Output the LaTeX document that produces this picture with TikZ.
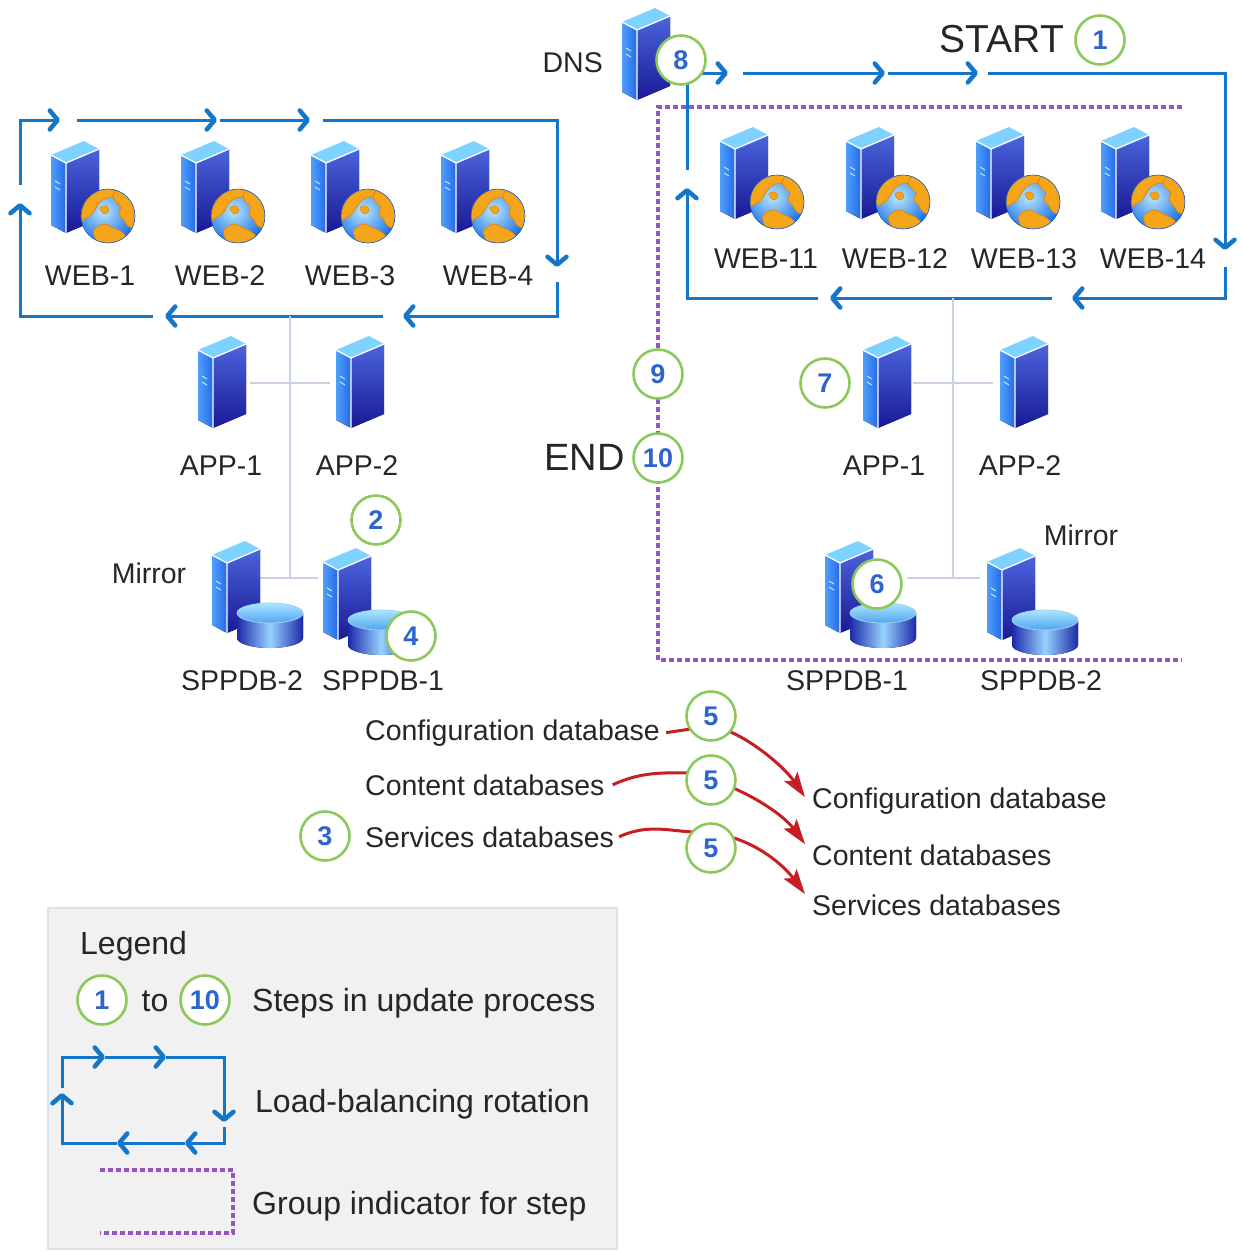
\documentclass[tikz,border=0pt]{standalone}
\usepackage{fontspec}
\setmainfont{Liberation Sans}
\usetikzlibrary{arrows.meta,backgrounds}

\definecolor{loopblue}{RGB}{20,118,200}
\definecolor{ringgreen}{RGB}{140,200,90}
\definecolor{numblue}{RGB}{45,100,205}
\definecolor{grouppurple}{RGB}{150,85,190}
\definecolor{flowred}{RGB}{200,30,35}
\definecolor{linkgray}{RGB}{200,210,228}
\definecolor{txt}{RGB}{38,38,38}
\definecolor{legendfill}{RGB}{241,241,241}
\definecolor{legendedge}{RGB}{218,226,236}
% server tower faces
\definecolor{lfA}{RGB}{80,160,250}
\definecolor{lfB}{RGB}{35,105,235}
\definecolor{rfA}{RGB}{75,100,220}
\definecolor{rfB}{RGB}{25,25,150}
\definecolor{tfc}{RGB}{125,210,255}
% database cylinder
\definecolor{cylDark}{RGB}{30,40,170}
\definecolor{cylLight}{RGB}{150,210,255}
\definecolor{cylTopA}{RGB}{170,230,255}
\definecolor{cylTopB}{RGB}{80,165,240}
% globe
\definecolor{seaLight}{RGB}{185,232,255}
\definecolor{seaDark}{RGB}{25,110,230}
\definecolor{land}{RGB}{245,165,25}
\definecolor{landEdge}{RGB}{225,135,20}

% tower body, origin at the front bottom corner
\newcommand\drawTower{%
  \fill[left color=lfA,right color=lfB] (0,0) -- (-15,-8) -- (-15,-78) -- (0,-70) -- cycle;
  \fill[top color=rfA,bottom color=rfB] (0,0) -- (33,-14) -- (33,-84) -- (0,-70) -- cycle;
  \fill[tfc] (-15,-78) -- (0,-70) -- (33,-84) -- (18,-92) -- cycle;
  \draw[white,line width=1.3pt,line join=round] (0,0) -- (0,-70) -- (33,-84) (-15,-78) -- (0,-70);
  \draw[white!70!lfA,line width=1pt] (-11,-52) -- (-6,-49) (-11,-46) -- (-6,-43);
}
% globe, centred on the origin
\newcommand\drawGlobe{%
  \begin{scope}
    \clip (0,0) circle[radius=27pt];
    \shade[inner color=seaLight,outer color=seaDark] (-5,-5) circle[radius=34pt];
    \filldraw[fill=land,draw=landEdge,line width=0.8pt] plot[smooth cycle,tension=0.6] coordinates
      {(-30,-10) (-24,-20) (-14,-27) (-2,-30) (8,-29) (6,-20) (-2,-18) (-8,-14) (-12,-8) (-16,-2) (-22,2) (-28,4)};
    \filldraw[fill=land,draw=landEdge,line width=0.8pt] plot[smooth cycle,tension=0.6] coordinates
      {(10,-26) (20,-22) (28,-12) (30,0) (29,12) (20,10) (16,4) (11,-2) (13,-9) (8,-14) (5,-20)};
    \filldraw[fill=land,draw=landEdge,line width=0.8pt] plot[smooth cycle,tension=0.6] coordinates
      {(-14,14) (-4,8) (5,12) (12,15) (18,22) (8,30) (-6,31) (-12,24)};
    \filldraw[fill=land,draw=landEdge,line width=0.6pt] plot[smooth cycle,tension=0.6] coordinates
      {(-8,-8) (-2,-10) (1,-5) (-4,-2)};
  \end{scope}
  \draw[seaDark!85!black,line width=0.6pt] (0,0) circle[radius=27pt];
}
% database cylinder beside a tower
\newcommand\drawDisk{%
  \fill[left color=cylDark,right color=cylDark,middle color=cylLight]
    (10,-20) -- (10,5) arc[start angle=180,end angle=360,x radius=33pt,y radius=10pt] -- (76,-20) -- cycle;
  \fill[top color=cylTopA,bottom color=cylTopB] (43,-20) ellipse[x radius=33pt,y radius=10pt];
  \draw[white!50!cylTopB,line width=0.8pt] (43,-20) ellipse[x radius=33pt,y radius=10pt];
}

\tikzset{
  pics/appserver/.style={code={\coordinate (-o) at (0,0); \drawTower}},
  pics/webserver/.style={code={\coordinate (-o) at (0,0); \drawTower
      \begin{scope}[shift={(42,-17)}]\drawGlobe\end{scope}}},
  pics/dbserver/.style={code={\coordinate (-o) at (0,0); \drawTower \drawDisk}},
  lbl/.style={text=txt,font=\fontsize{28.5}{30}\selectfont,inner sep=0pt,anchor=base},
  lblw/.style={lbl,anchor=base west},
  legtxt/.style={text=txt,font=\fontsize{32}{34}\selectfont,inner sep=0pt,anchor=base west},
  stepc/.style={circle,draw=ringgreen,line width=2.6pt,fill=white,minimum size=49pt,
      inner sep=0pt,text=numblue,font=\bfseries\fontsize{27}{27}\selectfont},
  rot/.style={draw=loopblue,line width=3pt,
      -{Straight Barb[length=8pt,width=19pt,line width=4.5pt,round]}},
  rotplain/.style={draw=loopblue,line width=3pt},
  group/.style={draw=grouppurple,line width=3.5pt,dash pattern=on 5pt off 3pt},
  link/.style={draw=linkgray,line width=2pt},
  flow/.style={draw=flowred,line width=3pt},
  flowarrow/.style={flow,-{Stealth[length=25pt,width=16pt,inset=5pt]}},
}

\begin{document}
\begin{tikzpicture}[x=1pt,y=-1pt]
\useasboundingbox (0,0) rectangle (1243,1251);

% ---------- servers ----------
\pic (dns) at (637,100) {appserver};
\pic (w1) at (66,233) {webserver};
\pic (w2) at (196,233) {webserver};
\pic (w3) at (326,233) {webserver};
\pic (w4) at (456,233) {webserver};
\pic (w11) at (735,219) {webserver};
\pic (w12) at (861,219) {webserver};
\pic (w13) at (991,219) {webserver};
\pic (w14) at (1116,219) {webserver};
\pic (la1) at (213,428) {appserver};
\pic (la2) at (351,428) {appserver};
\pic (ra1) at (878,428) {appserver};
\pic (ra2) at (1015,428) {appserver};
\pic (ldb2) at (227,633) {dbserver};
\pic (ldb1) at (338,640) {dbserver};
\pic (rdb1) at (840,633) {dbserver};
\pic (rdb2) at (1002,640) {dbserver};

% ---------- labels ----------
\node[lbl,anchor=base east] (dnsl) at (603,72) {DNS};
\node[lbl,font=\fontsize{39}{40}\selectfont] (start) at (1002,52) {START};
\node[lbl,anchor=base east,font=\fontsize{38}{40}\selectfont] (endl) at (625,470) {END};
\node[lbl] (w1l) at (90,285) {WEB-1};
\node[lbl] (w2l) at (220,285) {WEB-2};
\node[lbl] (w3l) at (350,285) {WEB-3};
\node[lbl] (w4l) at (488,285) {WEB-4};
\node[lbl] (w11l) at (766,268) {WEB-11};
\node[lbl] (w12l) at (895,268) {WEB-12};
\node[lbl] (w13l) at (1024,268) {WEB-13};
\node[lbl] (w14l) at (1153,268) {WEB-14};
\node[lbl] (la1l) at (221,475) {APP-1};
\node[lbl] (la2l) at (357,475) {APP-2};
\node[lbl] (ra1l) at (884,475) {APP-1};
\node[lbl] (ra2l) at (1020,475) {APP-2};
\node[lbl] (ldb2l) at (242,690) {SPPDB-2};
\node[lbl] (ldb1l) at (383,690) {SPPDB-1};
\node[lbl] (rdb1l) at (847,690) {SPPDB-1};
\node[lbl] (rdb2l) at (1041,690) {SPPDB-2};
\node[lbl] (mirl) at (149,583) {Mirror};
\node[lbl] (mirr) at (1081,545) {Mirror};

\node[lblw] (cfgL) at (365,740) {Configuration database};
\node[lblw] (cntL) at (365,795) {Content databases};
\node[lblw] (svcL) at (365,847) {Services databases};
\node[lblw] (cfgR) at (812,808) {Configuration database};
\node[lblw] (cntR) at (812,865) {Content databases};
\node[lblw] (svcR) at (812,915) {Services databases};

% ---------- step markers ----------
\node[stepc] (s1) at (1100,40) {1};
\node[stepc] (s8) at (681,60) {8};
\node[stepc] (s2) at (376,520) {2};
\node[stepc] (s4) at (411,636) {4};
\node[stepc] (s3) at (325,836) {3};
\node[stepc] (s5a) at (711,716) {5};
\node[stepc] (s5b) at (711,780) {5};
\node[stepc] (s5c) at (711,848) {5};
\node[stepc] (s6) at (877,584) {6};
\node[stepc] (s7) at (825,383) {7};
\node[stepc] (s9) at (658,374) {9};
\node[stepc] (s10) at (658,458) {10};

% ---------- legend ----------
\node[legtxt] (legt) at (80,954) {Legend};
\node[stepc] (lg1) at (102,1000) {1};
\node[legtxt,anchor=base] (legto) at (155,1011) {to};
\node[stepc] (lg10) at (205,1000) {10};
\node[legtxt] (legsteps) at (252,1011) {Steps in update process};
\node[legtxt] (legrot) at (255,1112) {Load-balancing rotation};
\node[legtxt] (leggrp) at (252,1214) {Group indicator for step};

\begin{scope}[on background layer]
  % legend panel
  \filldraw[fill=legendfill,draw=legendedge,line width=1.5pt] (48,908) rectangle (617,1249);

  % group of servers updated together
  \draw[group] (1182,107) -- (658,107) -- (658,660) -- (1182,660);
  \draw[group] (100,1170) -- (233,1170) -- (233,1233) -- (100,1233);

  % rotation around the first farm
  \draw[rot] (383,316) -- (165,316);
  \draw[rot] (153,316) -- (20,316) -- (20,203);
  \draw[rot] (20,185) -- (20,120) -- (60,120);
  \draw[rot] (77,120) -- (217,120);
  \draw[rot] (220,120) -- (310,120);
  \draw[rot] (323,120) -- (557,120) -- (557,267);
  \draw[rot] (557,282) -- (557,316) -- (403,316);

  % rotation around the second farm
  \draw[rot] (s8.center) ++(6,13) -- (728,73);
  \draw[rot] (743,73) -- (885,73);
  \draw[rot] (888,73) -- (978,73);
  \draw[rot] (988,73) -- (1225,73) -- (1225,250);
  \draw[rot] (1225,267) -- (1225,298) -- (1072,298);
  \draw[rot] (1052,298) -- (830,298);
  \draw[rot] (818,298) -- (687,298) -- (687,188);
  \draw[rotplain] (687,170) -- (s8.center -| 687,0);

  % legend rotation sample
  \draw[rot] (62,1088) -- (62,1057) -- (105,1057);
  \draw[rot] (105,1057) -- (166,1057);
  \draw[rot] (166,1057) -- (224,1057) -- (224,1122);
  \draw[rot] (224,1127) -- (224,1143) -- (185,1143);
  \draw[rot] (185,1143) -- (117,1143);
  \draw[rot] (117,1143) -- (62,1143) -- (62,1093);

  % network links
  \draw[link] (290,316) -- (290,578);
  \draw[link] (250,383) -- (330,383);
  \draw[link] (258,578) -- (318,578);
  \draw[link] (953,298) -- (953,578);
  \draw[link] (913,383) -- (993,383);
  \draw[link] (907,578) -- (980,578);

  % database moves
  \draw[flow] ([xshift=6pt]cfgL.east) -- ([yshift=-10pt]s5a.center);
  \draw[flowarrow] ([yshift=-10pt]s5a.center) .. controls +(30,4) and +(-22,-32) .. ([xshift=-7pt,yshift=-10pt]cfgR.north west);
  \draw[flow] ([xshift=8pt]cntL.east) .. controls +(30,-14) and +(-25,0) .. ([xshift=-20pt,yshift=7pt]s5b.center);
  \draw[flowarrow] (s5b.center) .. controls +(35,10) and +(-22,-30) .. ([xshift=-7pt]cntR.north west);
  \draw[flow] ([xshift=5pt]svcL.east) .. controls +(30,-14) and +(-25,0) .. ([xshift=-14pt,yshift=16pt]s5c.center);
  \draw[flowarrow] ([xshift=-14pt,yshift=16pt]s5c.center) .. controls +(50,0) and +(-22,-30) .. ([xshift=-7pt]svcR.north west);
\end{scope}
\end{tikzpicture}
\end{document}
